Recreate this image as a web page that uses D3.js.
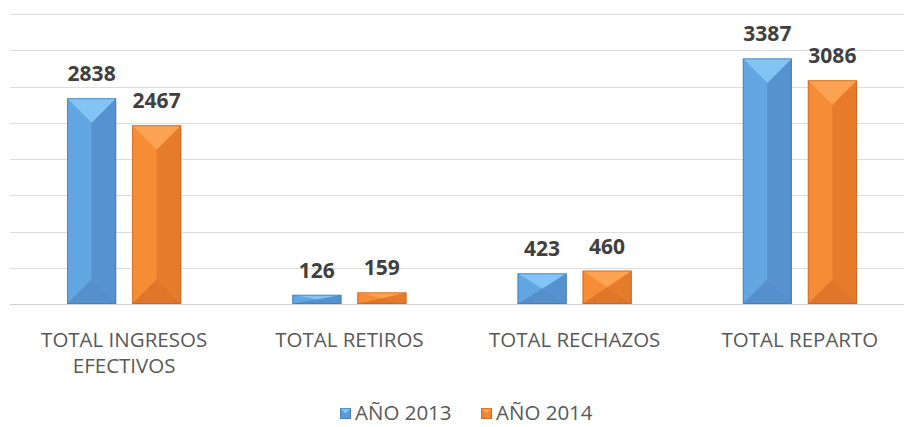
<!DOCTYPE html>
<html><head><meta charset="utf-8">
<script src="https://cdn.jsdelivr.net/npm/d3@7"></script>
<style>body{margin:0;background:#fff;} svg{display:block;font-family:"Open Sans",sans-serif;}</style>
</head><body>
<svg id="c" width="904" height="427"></svg>
<script>
const categories = [["TOTAL INGRESOS","EFECTIVOS"],["TOTAL RETIROS"],["TOTAL RECHAZOS"],["TOTAL REPARTO"]];
const seriesNames = ["AÑO 2013","AÑO 2014"];
const values2013 = [2838,126,423,3387];
const values2014 = [2467,159,460,3086];
const yTicks = [0,500,1000,1500,2000,2500,3000,3500,4000];

const palettes = [
  {top:"#82C4F4", left:"#62A6E4", right:"#5692D0", bottom:"#5590CC", edge:"#3F73A8", mid:"#5A9BD8"},
  {top:"#FBA353", left:"#F78C37", right:"#E67B2C", bottom:"#E0762A", edge:"#B85E22", mid:"#F08433"}
];

const svg = d3.select("#c");
const W = 904;
const y = d3.scaleLinear().domain([0,4000]).range([304,14]);
const x0 = d3.scaleBand().domain(d3.range(categories.length)).range([11.5, 912.5]).paddingInner(0).paddingOuter(0);
const barW = 49, gap = 16;

// gridlines
svg.append("g").selectAll("line").data(yTicks).join("line")
  .attr("x1",10).attr("x2",W).attr("y1",d=>Math.round(y(d))+0.5).attr("y2",d=>Math.round(y(d))+0.5)
  .attr("stroke",d=>d===0?"#D0D0D0":"#DDDDDD").attr("stroke-width",1);

const series = [values2013, values2014];
series.forEach((vals, si) => {
  const p = palettes[si];
  const g = svg.append("g");
  vals.forEach((v, i) => {
    const cx = x0(i) + x0.bandwidth()/2;
    const xL = si===0 ? cx - gap/2 - barW : cx + gap/2;
    const xR = xL + barW;
    const yT = y(v), yB = y(0);
    const h = yB - yT;
    const d = Math.min(barW/2, h/2);
    const xm = xL + barW/2;
    const bg = g.append("g");
    bg.append("rect").attr("x",xL).attr("y",yT).attr("width",barW).attr("height",h).attr("fill",p.mid);
    bg.append("polygon").attr("points",[[xL,yT],[xm,yT+d],[xm,yB-d],[xL,yB]].join(" ")).attr("fill",p.left);
    bg.append("polygon").attr("points",[[xR,yT],[xm,yT+d],[xm,yB-d],[xR,yB]].join(" ")).attr("fill",p.right);
    bg.append("polygon").attr("points",[[xL,yT],[xR,yT],[xm,yT+d]].join(" ")).attr("fill",p.top);
    bg.append("polygon").attr("points",[[xL,yB],[xR,yB],[xm,yB-d]].join(" ")).attr("fill",p.bottom);
    bg.append("rect").attr("x",xL+0.5).attr("y",yT+0.5).attr("width",barW-1).attr("height",Math.max(0,h-1))
      .attr("fill","none").attr("stroke",p.edge).attr("stroke-width",1).attr("stroke-opacity",0.55);
    g.append("text").attr("x",xm).attr("y",yT-17).attr("text-anchor","middle")
      .attr("font-size",21).attr("font-weight","bold").attr("fill","#404040").text(v);
  });
});

// category labels
const lab = svg.append("g");
categories.forEach((lines, i) => {
  const cx = x0(i) + x0.bandwidth()/2;
  lines.forEach((t, li) => {
    lab.append("text").attr("x",cx).attr("y",347+li*26).attr("text-anchor","middle")
      .attr("font-size",20.5).attr("fill","#595959").text(t);
  });
});

// legend
const leg = svg.append("g");
const legX = [340, 481];
seriesNames.forEach((n, i) => {
  const p = palettes[i];
  const lx = legX[i], ly = 408, s = 11;
  leg.append("rect").attr("x",lx).attr("y",ly).attr("width",s).attr("height",s).attr("fill",p.mid);
  leg.append("polygon").attr("points",[[lx,ly],[lx+s,ly],[lx+s/2,ly+s/2]].join(" ")).attr("fill",p.top);
  leg.append("rect").attr("x",lx+0.5).attr("y",ly+0.5).attr("width",s-1).attr("height",s-1).attr("fill","none").attr("stroke",p.edge).attr("stroke-opacity",0.6);
  leg.append("text").attr("x",lx+s+4).attr("y",ly+s+1).attr("font-size",20.5).attr("fill","#595959").text(n);
});
</script>
</body></html>
